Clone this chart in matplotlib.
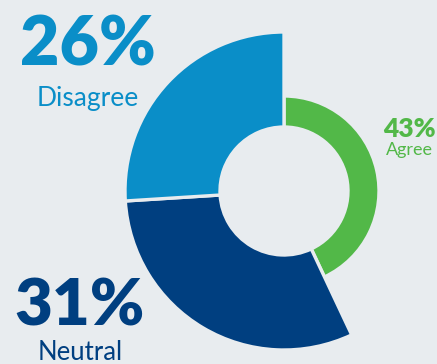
import matplotlib
matplotlib.use("Agg")
from matplotlib import pyplot as plt
from matplotlib.patches import Wedge

W, H = 437, 364

# survey shares, drawn clockwise from 12 o'clock
labels = ['Agree', 'Neutral', 'Disagree']
shares = [43, 31, 26]

bg = '#e8ecef'
colors = {'Agree': '#52b848', 'Neutral': '#003f80', 'Disagree': '#0a8ec8'}
outer = {'Agree': 95, 'Neutral': 159, 'Disagree': 159}
inner = 64
cx, cy = 284, H - 191

fig = plt.figure(figsize=(W / 100, H / 100), dpi=100)
fig.patch.set_facecolor(bg)
ax = fig.add_axes([0, 0, 1, 1])
ax.set_xlim(0, W)
ax.set_ylim(0, H)
ax.set_aspect('equal')
ax.axis('off')

start = 90.0
for name, share in zip(labels, shares):
    sweep = share / sum(shares) * 360
    ax.add_patch(Wedge((cx, cy), outer[name], start - sweep, start,
                       width=outer[name] - inner, facecolor=colors[name],
                       edgecolor=bg, linewidth=2.4))
    start -= sweep

font = 'Lato'


def label(x, y, pct, name, big, small, gap):
    # big number with the category name underneath
    ax.text(x, H - y, f'{pct}%', ha='center', va='baseline', fontsize=big,
            fontweight='heavy', family=font, color=colors[name])
    ax.text(x, H - y - gap, name, ha='center', va='baseline', fontsize=small,
            family=font, color=colors[name])


label(88, 65, shares[2], 'Disagree', 49, 19, 41)
label(80, 326, shares[1], 'Neutral', 47, 18.5, 34)
label(409, 137, shares[0], 'Agree', 19, 13, 18)

fig.savefig('out.png', dpi=100, facecolor=bg)
